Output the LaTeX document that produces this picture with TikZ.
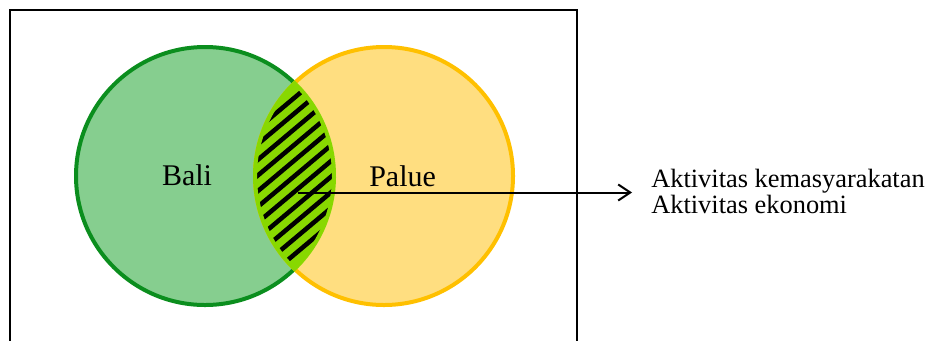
\documentclass[tikz,border=0pt]{standalone}
\usepackage{fontspec}
\setmainfont{Liberation Serif}
\usetikzlibrary{arrows.meta}
\definecolor{baliFill}{HTML}{86CE8F}
\definecolor{baliLine}{HTML}{0B8E1E}
\definecolor{palueFill}{HTML}{FFDE80}
\definecolor{palueLine}{HTML}{FFC000}
\definecolor{lensFill}{HTML}{88D800}
\tikzset{
  setcircle/.style={circle, draw, line width=3pt, inner sep=0pt, minimum size=193.5pt},
  setlabel/.style={inner sep=0pt, font=\fontsize{22.5}{26}\selectfont},
  sidetext/.style={inner sep=0pt, anchor=base west, font=\fontsize{19.8}{23}\selectfont},
}
\begin{document}
\begin{tikzpicture}[x=0.75pt, y=0.75pt]
  \useasboundingbox (0,0) rectangle (930,-340);
  % frame (runs off the lower edge)
  \draw[line width=1.5pt] (10,-341) -- (10,-9.5) -- (577,-9.5) -- (577,-341);
  % the two sets
  \node[setcircle, fill=baliFill, draw=baliLine] (bali) at (205,-176) {};
  \node[setcircle, fill=palueFill, draw=palueLine] (palue) at (384,-176) {};
  % overlap: lime fill with black stripes
  \begin{scope}
    \clip (205,-176) circle[radius=96.75pt];
    \clip (384,-176) circle[radius=96.75pt];
    \fill[lensFill] (384,-176) circle[radius=96.75pt];
    \begin{scope}[shift={(294.5,-176)}, rotate=40]
      \foreach \k in {-8,...,8}
        \draw[line width=3.4pt, black] (-160,\k*12) -- (160,\k*12);
    \end{scope}
  \end{scope}
  \draw[lensFill, line width=3pt]
    (294.5,-83.1) arc[start angle=46.07, end angle=-46.07, radius=96.75pt]
    arc[start angle=226.07, end angle=133.93, radius=96.75pt] -- cycle;
  % labels
  \node[setlabel, anchor=base] (balitxt) at (187,-185) {Bali};
  \node[setlabel, anchor=base west] (paluetxt) at (369,-186) {Palue};
  \node[sidetext] (akt1) at (651,-187) {Aktivitas kemasyarakatan};
  \node[sidetext] (akt2) at (651,-213.5) {Aktivitas ekonomi};
  % arrow from the overlap to the shared activities
  \coordinate (lenspt) at (298,-192.5);
  \coordinate (tip) at (632,-192.5);
  \draw[line width=1.5pt, -{Straight Barb[length=9pt, width=12pt, line width=1.5pt]}] (lenspt) -- (tip);
\end{tikzpicture}
\end{document}
